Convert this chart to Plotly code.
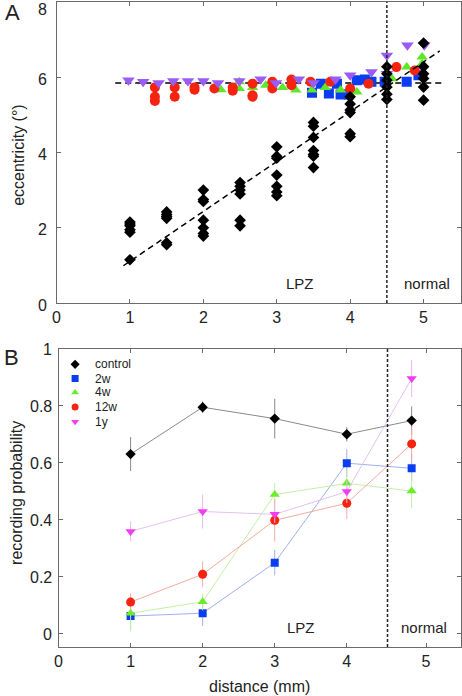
import plotly.graph_objects as go

# ---------------- Panel A data (eccentricity vs distance) ----------------
ctrlA_x = [1]*6 + [1.5]*6 + [2]*7 + [2.5]*6 + [3]*7 + [3.5]*7 + [4]*6 + [4.5]*6 + [5]*6
ctrlA_y = [1.15, 1.88, 1.95, 2.05, 2.1, 2.15,
           1.55, 1.6, 2.25, 2.3, 2.35, 2.42,
           1.78, 1.85, 2.0, 2.2, 2.7, 2.75, 3.0,
           2.05, 2.2, 2.9, 3.0, 3.1, 3.2,
           2.85, 2.95, 3.1, 3.4, 3.85, 3.9, 4.15,
           3.6, 3.9, 3.95, 4.05, 4.4, 4.7, 4.8,
           4.42, 4.5, 5.06, 5.13, 5.29, 5.48,
           5.41, 5.55, 5.74, 5.92, 6.09, 6.28,
           5.39, 5.74, 5.97, 6.09, 6.28, 6.91]

w2A_x = [3.48, 3.6, 3.71, 3.82, 3.87, 3.98, 4.09, 4.2, 4.29, 4.47, 4.77, 4.93]
w2A_y = [5.59, 5.83, 5.57, 5.83, 5.54, 5.54, 5.92, 5.94, 5.88, 5.88, 5.88, 6.05]

w4A_x = [2.24, 2.49, 2.49, 2.67, 2.85, 3.08, 3.26, 3.48, 3.66, 3.87, 4.09, 4.57, 4.77, 4.98, 4.98]
w4A_y = [5.67, 5.88, 5.7, 5.73, 5.79, 5.73, 5.66, 5.66, 5.73, 5.66, 5.61, 5.96, 6.27, 6.54, 6.36]

w12A_x = [1.34, 1.34, 1.34, 1.61, 1.61, 1.88, 1.88, 2.15, 2.4, 2.4, 2.67, 2.67, 2.67,
          2.94, 2.94, 3.2, 3.2, 3.46, 3.73, 4.0, 4.25, 4.63, 4.88]
w12A_y = [5.73, 5.48, 5.37, 5.73, 5.48, 5.73, 5.67, 5.7, 5.73, 5.64, 5.83, 5.52, 5.48,
          5.88, 5.7, 5.94, 5.79, 5.88, 5.88, 5.7, 5.83, 6.27, 6.18]

y1A_x = [0.98, 1.18, 1.39, 1.59, 1.79, 2.0, 2.2, 2.49, 2.78, 2.99, 3.3, 3.5, 3.8, 4.0,
         4.29, 4.5, 4.5, 4.78, 5.01]
y1A_y = [5.92, 5.88, 5.85, 5.9, 5.9, 5.9, 5.85, 5.9, 5.95, 5.85, 5.95, 5.85, 5.95, 6.05,
         6.14, 6.58, 6.09, 6.85, 6.85]

fit_x = [0.91, 5.22]
fit_y = [0.99, 6.70]
mean_x = [0.8, 5.28]
mean_y = [5.85, 5.85]

ytickA = [0, 2, 4, 6, 8]
xtickA = [0, 1, 2, 3, 4, 5]

# ---------------- Panel B data (recording probability) ----------------
xB = [1, 2, 3, 4, 4.9]
ctrlB = [0.63, 0.795, 0.755, 0.70, 0.748]
ctrlB_e = [0.06, 0.02, 0.07, 0.025, 0.05]
w2B = [0.06, 0.07, 0.248, 0.598, 0.58]
w2B_e = [0.05, 0.045, 0.045, 0.05, 0.05]
w4B = [0.07, 0.11, 0.488, 0.527, 0.50]
w4B_e = [0.065, 0.03, 0.04, 0.045, 0.06]
w12B = [0.109, 0.207, 0.397, 0.457, 0.666]
w12B_e = [0.03, 0.045, 0.075, 0.055, 0.06]
y1B = [0.358, 0.428, 0.418, 0.498, 0.896]
y1B_e = [0.035, 0.06, 0.03, 0.04, 0.065]

ytickB = [0, 0.2, 0.4, 0.6, 0.8, 1.0]
ytickB_text = ["0", "0.2", "0.4", "0.6", "0.8", "1"]
xtickB = [0, 1, 2, 3, 4, 5.1]
xtickB_text = ["0", "1", "2", "3", "4", "5"]

legend_names = ["control", "2w", "4w", "12w", "1y"]

FONT = "Liberation Sans, Arial, sans-serif"
TXT = "#222"
AX = "#6a6a6a"

fig = go.Figure()

def scA(x, y, sym, color, size):
    fig.add_trace(go.Scatter(x=x, y=y, mode="markers", xaxis="x", yaxis="y",
                             marker=dict(symbol=sym, color=color, size=size, line=dict(width=0)),
                             showlegend=False, hoverinfo="skip"))

fig.add_trace(go.Scatter(x=mean_x, y=mean_y, mode="lines", xaxis="x", yaxis="y",
                         line=dict(color="black", width=1.5, dash="6px,4px"),
                         showlegend=False, hoverinfo="skip"))
scA(w2A_x, w2A_y, "square", "#0a3cf0", 10)
scA(w4A_x, w4A_y, "triangle-up", "#5ee62a", 10)
scA(w12A_x, w12A_y, "circle", "#f5230f", 10)
scA(y1A_x, y1A_y, "triangle-down", "#9a5cf5", 11)
scA(ctrlA_x, ctrlA_y, "diamond", "black", 9)
fig.add_trace(go.Scatter(x=fit_x, y=fit_y, mode="lines", xaxis="x", yaxis="y",
                         line=dict(color="black", width=1.5, dash="6px,4px"),
                         showlegend=False, hoverinfo="skip"))

seriesB = [
    ("control", ctrlB, ctrlB_e, "diamond", "black", "#8a8a8a", "#8a8a8a", 8),
    ("2w", w2B, w2B_e, "square", "#0a3cf0", "#9fb0ee", "#9fb0ee", 8),
    ("4w", w4B, w4B_e, "triangle-up", "#6aee2a", "#c4eea8", "#c4eea8", 9),
    ("12w", w12B, w12B_e, "circle", "#f5230f", "#f3ab9f", "#f3ab9f", 9),
    ("1y", y1B, y1B_e, "triangle-down", "#f23cf2", "#e2c2ee", "#e8b8ee", 9),
]
for name, ys, es, sym, col, lcol, ecol, sz in seriesB:
    fig.add_trace(go.Scatter(
        x=xB, y=ys, mode="lines+markers", xaxis="x2", yaxis="y2", name=name,
        line=dict(color=lcol, width=1),
        marker=dict(symbol=sym, color=col, size=sz, line=dict(width=0)),
        error_y=dict(type="data", array=es, color=ecol, thickness=1, width=0),
        showlegend=False, hoverinfo="skip"))

leg_x = 0.23
leg_y = [0.946, 0.896, 0.847, 0.796, 0.744]
for i, (name, ys, es, sym, col, lcol, ecol, sz) in enumerate(seriesB):
    fig.add_trace(go.Scatter(x=[leg_x], y=[leg_y[i]], mode="markers", xaxis="x2", yaxis="y2",
                             marker=dict(symbol=sym, color=col, size=7), showlegend=False,
                             hoverinfo="skip"))

axis_common = dict(showline=True, mirror="ticks", linecolor=AX, linewidth=1.2,
                   ticks="inside", ticklen=4, tickcolor=AX, showgrid=False, zeroline=False,
                   tickfont=dict(family=FONT, size=16, color=TXT))

W, H = 462, 696
def px(x):
    return x / W
def py(y):
    return 1 - y / H

fig.update_layout(
    width=W, height=H, margin=dict(l=0, r=0, t=0, b=0),
    paper_bgcolor="white", plot_bgcolor="white",
    xaxis=dict(domain=[px(53), px(461)], range=[0, 5.51], tickvals=xtickA,
               anchor="y", **axis_common),
    yaxis=dict(domain=[py(303), py(2)], range=[0, 8], tickvals=ytickA,
               showticklabels=False, anchor="x", **axis_common),
    xaxis2=dict(domain=[px(55), px(461)], range=[0, 5.585], tickvals=xtickB,
                ticktext=xtickB_text, anchor="y2", **axis_common),
    yaxis2=dict(domain=[py(647), py(349)], range=[-0.049, 1.0], tickvals=ytickB,
                showticklabels=False, anchor="x2", **axis_common),
    shapes=[
        dict(type="line", xref="x", yref="y domain", x0=4.5, x1=4.5, y0=0, y1=1,
             line=dict(color="#222", width=1.5, dash="3px,2px")),
        dict(type="line", xref="x2", yref="y2 domain", x0=4.565, x1=4.565, y0=0, y1=1,
             line=dict(color="#222", width=1.5, dash="3px,2px")),
    ],
)

ann = []
def A(x, y, text, size, xref="paper", yref="paper", xanchor="center", yanchor="middle",
      angle=0, yshift=0):
    ann.append(dict(x=x, y=y, xref=xref, yref=yref, text=text, showarrow=False,
                    xanchor=xanchor, yanchor=yanchor, textangle=angle, yshift=yshift,
                    font=dict(family=FONT, size=size, color=TXT)))

# y tick labels (placed as text next to the axis)
for v in ytickA:
    A(px(45), v, str(v), 16, yref="y", xanchor="right", yshift=-7 if v == ytickA[-1] else -2)
for v, t in zip(ytickB, ytickB_text):
    A(px(50), v, t, 16, yref="y2", xanchor="right", yshift=-1)

A(px(9), py(13), "A", 22)
A(px(8), py(357), "B", 22)
A(px(15), py(155), "eccentricity (°)", 16, angle=-90)
A(px(12), py(493), "recording probability", 16, angle=-90)
A(px(258), py(686), "distance (mm)", 16)
A(3.32, 0.53, "LPZ", 15, xref="x", yref="y")
A(5.05, 0.53, "normal", 15, xref="x", yref="y")
A(3.37, 0.02, "LPZ", 15, xref="x2", yref="y2")
A(5.07, 0.02, "normal", 15, xref="x2", yref="y2")
for i, nm in enumerate(legend_names):
    A(0.48, leg_y[i], nm, 12, xref="x2", yref="y2", xanchor="left")
fig.update_layout(annotations=ann)

fig.write_html("out.html", config={"displayModeBar": False},
               post_script="document.body.style.margin='0';document.body.style.padding='0';document.body.style.overflow='hidden';")
